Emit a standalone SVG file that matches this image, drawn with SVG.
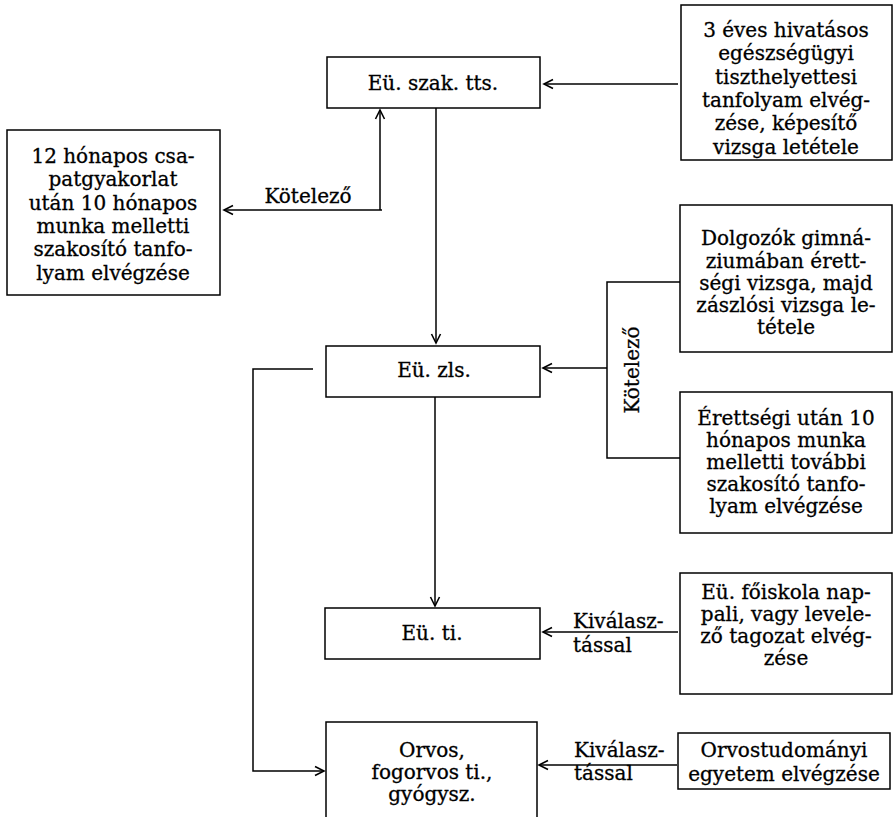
<svg xmlns="http://www.w3.org/2000/svg" width="895" height="817" viewBox="0 0 895 817">
<defs>
<marker id="ah" markerUnits="userSpaceOnUse" markerWidth="12" markerHeight="12" viewBox="-10 -6 12 12" refX="0" refY="0" orient="auto">
<path d="M-9,-4.5 L0,0 L-9,4.5" fill="none" stroke="#000" stroke-width="1.6"/>
</marker>
</defs>
<style>
rect, .box { fill: #fff; stroke: #000; stroke-width: 1.5; }
.c { fill: none; stroke: #000; stroke-width: 1.5; }
.a { marker-end: url(#ah); }
text { font-family: "DejaVu Serif", "Liberation Serif", serif; font-size: 20px; fill: #000; stroke: #000; stroke-width: 0.3; }
.m { text-anchor: middle; }
</style>
<rect width="895" height="817" fill="#fff" style="stroke:none"/>
<g id="connectors">
<path class="c a" d="M678,84 H544"/>
<path class="c a" d="M436,108 V343"/>
<path class="c a" d="M380,210 V110"/>
<path class="c a" d="M382,210 H224"/>
<path class="c" d="M680,282 H607 V458 H680"/>
<path class="c a" d="M607,368 H543"/>
<path class="c a" d="M435,397 V606"/>
<path class="c a" d="M678,632 H543"/>
<path class="c a" d="M313,369 H253 V771 H324"/>
<path class="c a" d="M677,765 H539"/>
</g>
<g id="n-szak">
<rect x="327" y="57" width="213" height="51"/>
<text class="m" x="433" y="90">Eü. szak. tts.</text>
</g>
<g id="n-3eves">
<rect x="681" y="5" width="211" height="155"/>
<text class="m" x="786" y="37">3 éves hivatásos</text>
<text class="m" x="786" y="60">egészségügyi</text>
<text class="m" x="786" y="84">tiszthelyettesi</text>
<text class="m" x="786" y="107">tanfolyam elvég-</text>
<text class="m" x="786" y="130">zése, képesítő</text>
<text class="m" x="786" y="154">vizsga letétele</text>
</g>
<g id="n-12hon">
<rect x="7" y="130" width="213" height="165"/>
<text class="m" x="113" y="163">12 hónapos csa-</text>
<text class="m" x="113" y="186">patgyakorlat</text>
<text class="m" x="113" y="210">után 10 hónapos</text>
<text class="m" x="113" y="233">munka melletti</text>
<text class="m" x="113" y="256">szakosító tanfo-</text>
<text class="m" x="113" y="280">lyam elvégzése</text>
</g>
<g id="l-kot1">
<text class="m" x="308" y="203">Kötelező</text>
</g>
<g id="n-zls">
<rect x="326" y="346" width="214" height="51"/>
<text class="m" x="434" y="377">Eü. zls.</text>
</g>
<g id="l-kot2">
<text class="m" x="632" y="377" transform="rotate(-90 632 370)">Kötelező</text>
</g>
<g id="n-dolg">
<rect x="680" y="205" width="212" height="147"/>
<text class="m" x="786" y="245">Dolgozók gimná-</text>
<text class="m" x="786" y="268">ziumában érett-</text>
<text class="m" x="786" y="290">ségi vizsga, majd</text>
<text class="m" x="786" y="312">zászlósi vizsga le-</text>
<text class="m" x="786" y="334">tétele</text>
</g>
<g id="n-eretts">
<rect x="680" y="392" width="212" height="141"/>
<text class="m" x="786" y="425">Érettségi után 10</text>
<text class="m" x="786" y="447">hónapos munka</text>
<text class="m" x="786" y="469">melletti további</text>
<text class="m" x="786" y="491">szakosító tanfo-</text>
<text class="m" x="786" y="513">lyam elvégzése</text>
</g>
<g id="n-ti">
<rect x="325" y="608" width="215" height="51"/>
<text class="m" x="432" y="640">Eü. ti.</text>
</g>
<g id="l-kiv1">
<text x="573" y="628">Kiválasz-</text>
<text x="573" y="652">tással</text>
</g>
<g id="n-foisk">
<rect x="680" y="573" width="212" height="121"/>
<text class="m" x="786" y="599">Eü. főiskola nap-</text>
<text class="m" x="786" y="621">pali, vagy levele-</text>
<text class="m" x="786" y="643">ző tagozat elvég-</text>
<text class="m" x="786" y="665">zése</text>
</g>
<g id="n-orvos">
<path class="box" d="M326,817 V722 H537 V817"/>
<text class="m" x="432" y="757">Orvos,</text>
<text class="m" x="432" y="779">fogorvos ti.,</text>
<text class="m" x="432" y="801">gyógysz.</text>
</g>
<g id="l-kiv2">
<text x="574" y="757">Kiválasz-</text>
<text x="574" y="780">tással</text>
</g>
<g id="n-egyetem">
<rect x="678" y="733" width="212" height="56"/>
<text class="m" x="784" y="757">Orvostudományi</text>
<text class="m" x="784" y="781">egyetem elvégzése</text>
</g>
</svg>
